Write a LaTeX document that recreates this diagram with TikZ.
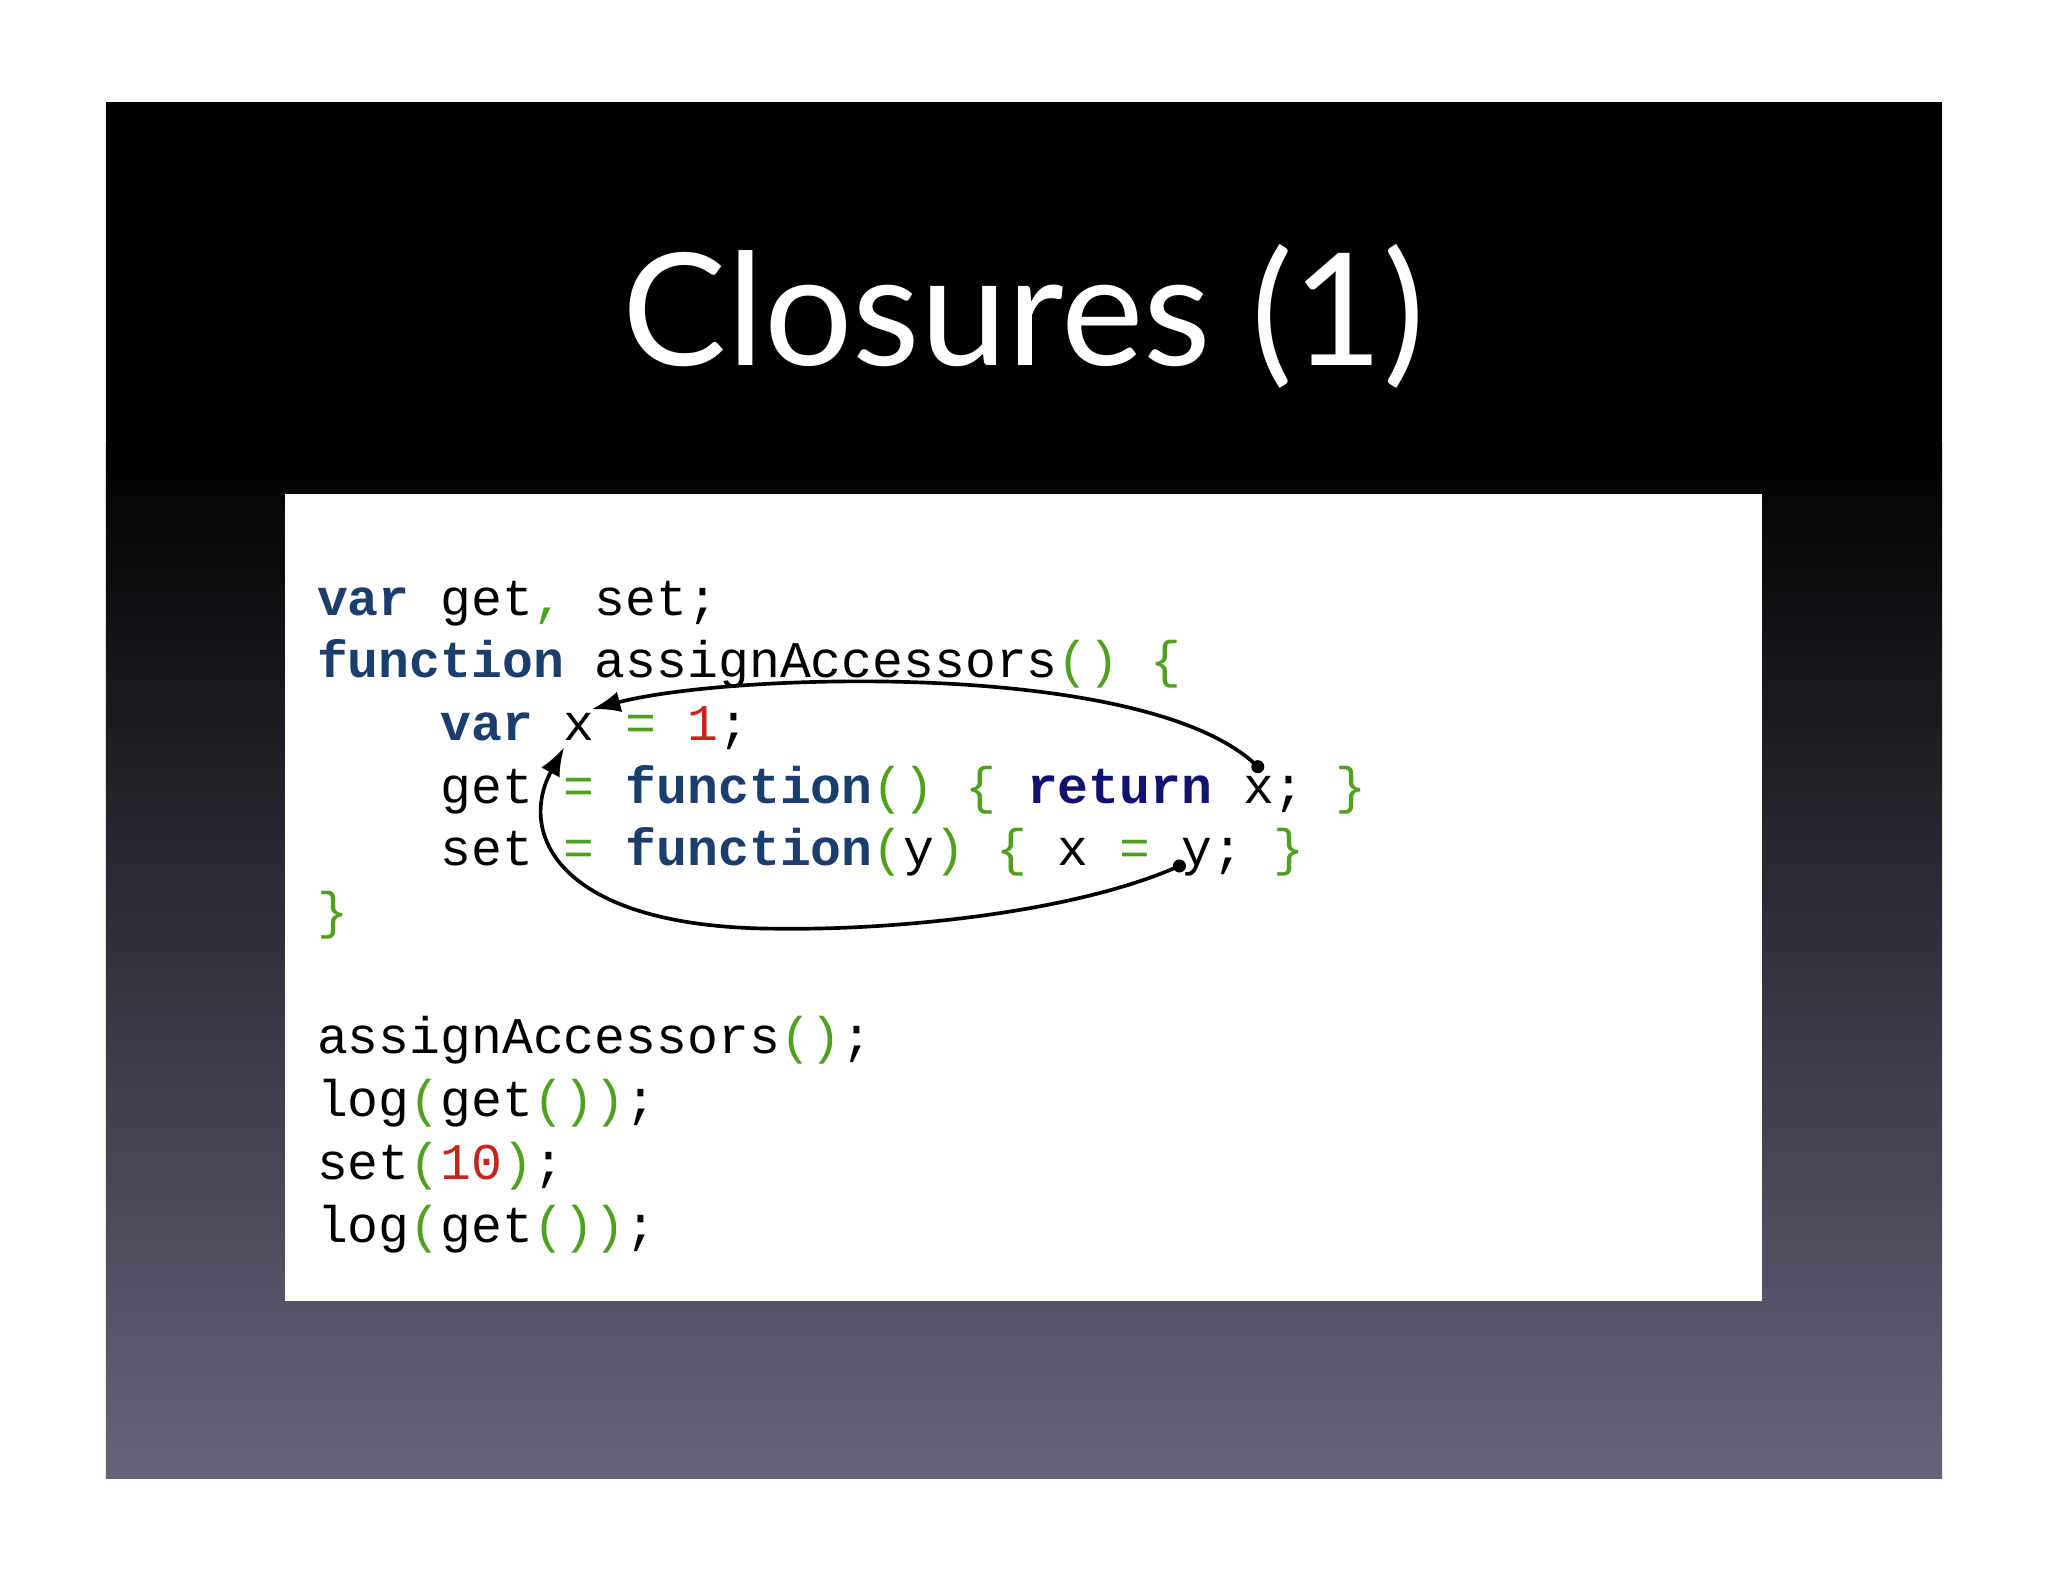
\documentclass[tikz,border=0pt]{standalone}
\usepackage{fontspec}
\setmainfont{Lato}
\newfontfamily\codefont{Liberation Mono}
\usetikzlibrary{arrows.meta}
\definecolor{kwblue}{RGB}{28,62,108}
\definecolor{kwnavy}{RGB}{16,20,110}
\definecolor{pgreen}{RGB}{78,160,30}
\definecolor{numred}{RGB}{196,36,30}
\definecolor{slidebot}{RGB}{102,100,122}
\newcommand{\kw}[1]{\textbf{\textcolor{kwblue}{#1}}}
\newcommand{\pn}[1]{\textcolor{pgreen}{#1}}
\newcommand{\nm}[1]{\textcolor{numred}{#1}}
\newcommand{\ind}{\phantom{xxxx}}
\begin{document}
\begin{tikzpicture}[x=0.01cm,y=-0.01cm,
  codeline/.style={anchor=mid west, inner sep=0pt, font=\codefont\fontsize{11.2}{13}\selectfont},
  link/.style={thick, -{Latex[length=2.2mm,width=1.6mm]}}]
\useasboundingbox (0,0) rectangle (1568,1211);
\fill[white] (0,0) rectangle (1568,1211);
\fill[black] (81,78) rectangle (1487,340);
\shade[top color=black, bottom color=slidebot] (81,339) rectangle (1487,1132);
\node[font=\fontsize{34}{40}\selectfont, text=white] (title) at (784,242) {Closures (1)};
\fill[white] (218,378) rectangle (1349,996);

\node[codeline] (l1) at (242,462) {\kw{var} get\pn{,} set;};
\node[codeline] (l2) at (242,510) {\kw{function} assignAccessors\pn{()} \pn{\{}};
\node[codeline] (l3) at (242,558) {\ind\kw{var} x \pn{=} \nm{1};};
\node[codeline] (l4) at (242,606) {\ind get \pn{=} \kw{function}\pn{()} \pn{\{} \textbf{\textcolor{kwnavy}{return}} x; \pn{\}}};
\node[codeline] (l5) at (242,654) {\ind set \pn{=} \kw{function}\pn{(}y\pn{)} \pn{\{} x \pn{=} y; \pn{\}}};
\node[codeline] (l6) at (242,702) {\pn{\}}};
\node[codeline] (l7) at (242,798) {assignAccessors\pn{()};};
\node[codeline] (l8) at (242,846) {log\pn{(}get\pn{())};};
\node[codeline] (l9) at (242,894) {set\pn{(}\nm{10}\pn{)};};
\node[codeline] (l10) at (242,942) {log\pn{(}get\pn{())};};

% closure links
\coordinate (xdef) at (453,543);
\coordinate (xdefb) at (432,572);
\coordinate (xget) at (963,587);
\coordinate (yset) at (903,663);
\fill (xget) circle (5);
\fill (yset) circle (5);
\draw[link] (xget) .. controls (880,505) and (560,515) .. (xdef);
\draw[link] (yset) .. controls (820,700) and (680,712) .. (600,711)
  .. controls (430,712) and (395,640) .. (xdefb);
\end{tikzpicture}
\end{document}
